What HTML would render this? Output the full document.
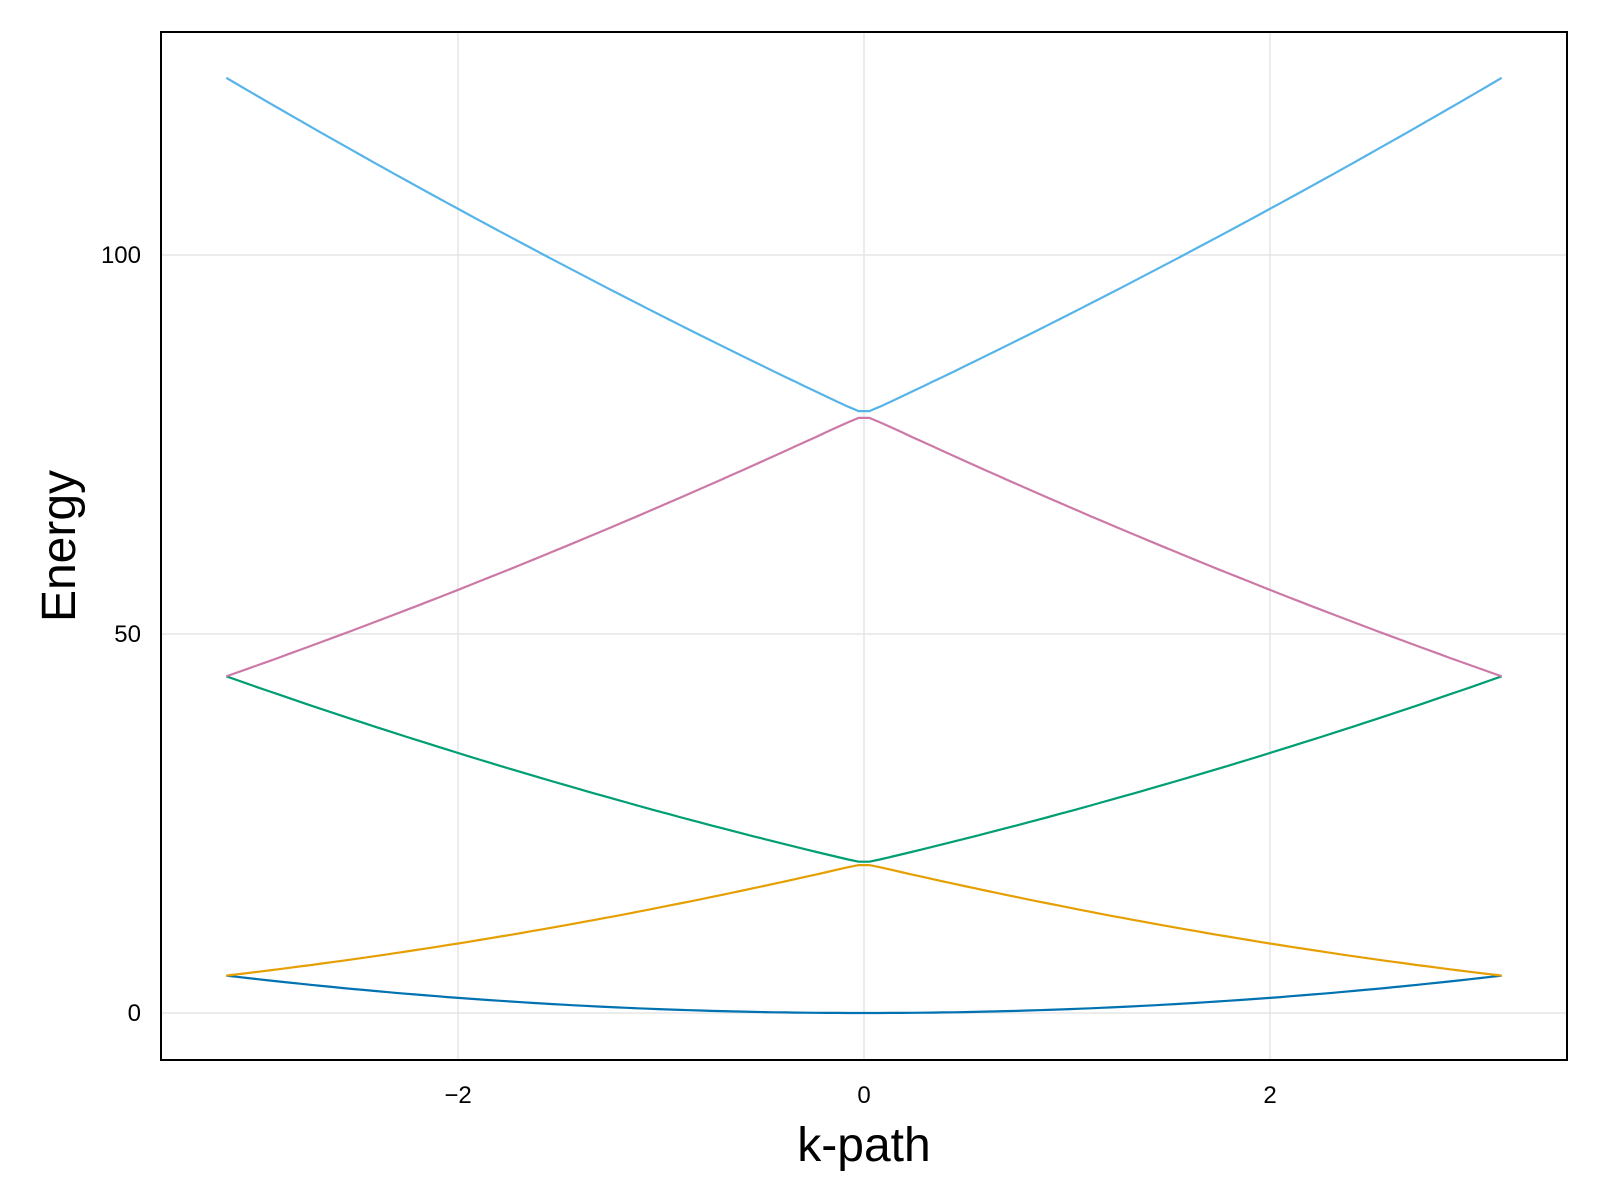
<!DOCTYPE html>
<html><head><meta charset="utf-8"><style>
html,body{margin:0;padding:0;background:#fff;}
svg{display:block;font-family:"Liberation Sans",sans-serif;}
</style></head><body>
<svg id="s" width="1600" height="1200" xmlns="http://www.w3.org/2000/svg">
<rect width="1600" height="1200" fill="#fff"/>
<g stroke="#e5e5e5" stroke-width="1.5">
<line x1="458" y1="32" x2="458" y2="1060"/>
<line x1="864" y1="32" x2="864" y2="1060"/>
<line x1="1270" y1="32" x2="1270" y2="1060"/>
<line x1="161" y1="1013" x2="1567" y2="1013"/>
<line x1="161" y1="634" x2="1567" y2="634"/>
<line x1="161" y1="255" x2="1567" y2="255"/>
</g>
<g id="lines" fill="none" stroke-width="2.2"></g>
<rect x="161" y="32" width="1406" height="1028" fill="none" stroke="#000" stroke-width="2"/>
<g font-size="24" fill="#000">
<text x="458" y="1103" text-anchor="middle">−2</text>
<text x="864" y="1103" text-anchor="middle">0</text>
<text x="1270" y="1103" text-anchor="middle">2</text>
<text x="141" y="1021" text-anchor="end">0</text>
<text x="141" y="642" text-anchor="end">50</text>
<text x="141" y="263" text-anchor="end">100</text>
</g>
<text x="864" y="1161" font-size="48" text-anchor="middle">k-path</text>
<text transform="translate(75,546) rotate(-90)" font-size="48" text-anchor="middle">Energy</text>
</svg>
<script>
(function(){
var cols=["#0072b2","#e69f00","#009e73","#cc79a7","#56b4e9"];
var N=121,pts=[[],[],[],[],[]];
for(var i=0;i<=N;i++){
 var k=-Math.PI+2*Math.PI*i/N;
 var e=[];
 for(var n=-2;n<=2;n++){var q=k+2*Math.PI*n;e.push(q*q/2);}
 e.sort(function(a,b){return a-b;});
 [[1,2,0.15],[3,4,0.3]].forEach(function(p){
  var a=e[p[0]],b=e[p[1]],m=(a+b)/2,d=(b-a)/2,r=Math.sqrt(d*d+p[2]*p[2]);
  e[p[0]]=m-r;e[p[1]]=m+r;});
 var x=864+203*k;
 for(var j=0;j<5;j++)pts[j].push(x.toFixed(1)+","+(1013-7.58*e[j]).toFixed(1));
}
var g=document.getElementById("lines"),h="";
for(var j=0;j<5;j++)h+='<polyline stroke="'+cols[j]+'" points="'+pts[j].join(" ")+'"/>';
g.innerHTML=h;
})();
</script>
</body></html>
